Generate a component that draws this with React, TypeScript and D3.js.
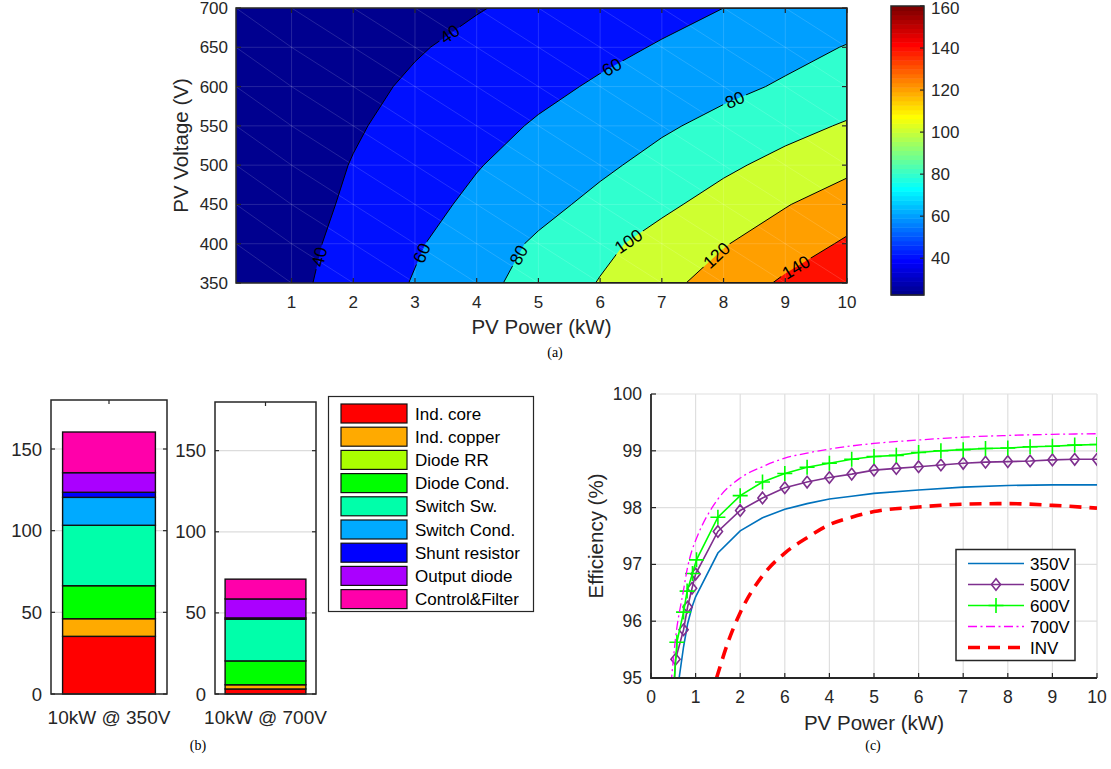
import React, { useEffect, useRef } from 'react'
import * as d3 from 'd3'

// (a) converter loss map: power columns (kW), voltage rows (V), loss in W
const gridPower = [0.1, 1, 2, 3, 4, 5, 6, 7, 8, 9, 10]
const gridVoltage = [350, 400, 450, 500, 550, 600, 650, 700]
const lossGrid = [
  [23, 35.5, 48.5, 61.3, 74.3, 87.5, 101, 114.5, 128.5, 143, 158],
  [22.5, 34, 46.1, 57.9, 70.3, 82.8, 95.3, 107.3, 118.8, 130.6, 142.4],
  [22.5, 32.3, 43.1, 53.6, 64, 74.3, 84.9, 96.1, 107.4, 118.9, 130.3],
  [22.5, 31.2, 40.8, 49.9, 59, 67.8, 76.5, 86.1, 96.3, 106, 115],
  [22.5, 29.9, 38.1, 46.1, 53.9, 61.8, 69.6, 77.4, 85.4, 93.7, 101.9],
  [22.5, 28.7, 35.6, 42.4, 49, 55.6, 62.2, 68.8, 75.5, 82.1, 88.8],
  [22.5, 27.5, 33, 38.6, 44.2, 49.9, 55.6, 61.4, 67.9, 74.4, 80.8],
  [22.5, 26.3, 30.6, 34.8, 39.1, 44.1, 49.4, 54.7, 60, 65.5, 71],
]
const contourLevels = [40, 60, 80, 100, 120, 140]
const colorLimits = [22.5, 160]
const colorbarTicks = [40, 60, 80, 100, 120, 140, 160]
const mapXTicks = [1, 2, 3, 4, 5, 6, 7, 8, 9, 10]
const mapYTicks = [350, 400, 450, 500, 550, 600, 650, 700]
const contourLabels = [
  { level: 40, p: 3.57, v: 666 },
  { level: 40, p: 1.46, v: 383 },
  { level: 60, p: 6.18, v: 626 },
  { level: 60, p: 3.2, v: 385 },
  { level: 80, p: 8.17, v: 585 },
  { level: 80, p: 4.79, v: 381 },
  { level: 100, p: 6.54, v: 394 },
  { level: 120, p: 7.96, v: 379 },
  { level: 140, p: 9.19, v: 368 },
]

// (b) loss breakdown (W)
const lossCategories = ['Ind. core', 'Ind. copper', 'Diode RR', 'Diode Cond.', 'Switch Sw.', 'Switch Cond.', 'Shunt resistor', 'Output diode', 'Control&Filter']
const barLabels = ['10kW @ 350V', '10kW @ 700V']
const loss350 = [35.3, 10.8, 0, 20.2, 37, 17.1, 3.1, 12, 24.9]
const loss700 = [3.1, 2.6, 0, 14.7, 25.7, 0, 0.8, 11.7, 12.2]
const barTicks = [0, 50, 100, 150]

// (c) efficiency curves (%)
const p350 = [0.55, 0.73, 0.82, 0.92, 1, 1.5, 2, 2.5, 3, 3.5, 4, 4.5, 5, 6, 7, 8, 9, 10]
const eff350 = [94.55, 95.55, 95.95, 96.25, 96.43, 97.2, 97.59, 97.82, 97.97, 98.07, 98.15, 98.2, 98.25, 98.31, 98.36, 98.39, 98.4, 98.4]
const p500 = [0.5, 0.55, 0.73, 0.82, 0.92, 1, 1.5, 2, 2.5, 3, 3.5, 4, 4.5, 5, 5.5, 6, 6.5, 7, 7.5, 8, 8.5, 9, 9.5, 10]
const eff500 = [94.6, 95.33, 95.85, 96.25, 96.58, 96.83, 97.58, 97.95, 98.17, 98.35, 98.45, 98.53, 98.59, 98.66, 98.69, 98.72, 98.75, 98.78, 98.8, 98.81, 98.82, 98.84, 98.85, 98.85]
const p600 = [0.5, 0.58, 0.73, 0.81, 0.93, 1.02, 1.5, 2, 2.5, 3, 3.5, 4, 4.5, 5, 5.5, 6, 6.5, 7, 7.5, 8, 8.5, 9, 9.5, 10]
const eff600 = [94.7, 95.63, 96.16, 96.53, 96.84, 97.08, 97.83, 98.21, 98.45, 98.6, 98.71, 98.78, 98.85, 98.9, 98.92, 98.97, 99.0, 99.02, 99.04, 99.05, 99.07, 99.08, 99.1, 99.11]
const p700 = [0.45, 0.55, 0.73, 0.82, 0.92, 1, 1.5, 2, 2.5, 3, 3.5, 4, 5, 6, 7, 8, 9, 10]
const eff700 = [94.9, 95.7, 96.55, 96.95, 97.25, 97.42, 98.15, 98.52, 98.72, 98.87, 98.96, 99.03, 99.13, 99.19, 99.24, 99.27, 99.29, 99.3]
const pInv = [1.47, 1.75, 2, 2.5, 3, 3.5, 4, 4.5, 5, 6, 7, 8, 9, 10]
const effInv = [95.0, 95.68, 96.15, 96.8, 97.2, 97.47, 97.7, 97.83, 97.93, 98.01, 98.06, 98.07, 98.04, 97.99]
const effXTicks = [0, 1, 2, 3, 4, 5, 6, 7, 8, 9, 10]
const effXTickLabels = ['0', '1', '2', '6', '4', '5', '6', '7', '8', '9', '10']
const effYTicks = [95, 96, 97, 98, 99, 100]

const FONT = "'Liberation Sans', Arial, Helvetica, sans-serif"
const SERIF = "'Liberation Serif', 'Times New Roman', serif"
const INK = '#262626'

const clamp = (v: number, a: number, b: number) => Math.max(a, Math.min(b, v))

function jet(t: number) {
  const r = clamp(Math.min(4 * t - 1.5, -4 * t + 4.5), 0, 1)
  const g = clamp(Math.min(4 * t - 0.5, -4 * t + 3.5), 0, 1)
  const b = clamp(Math.min(4 * t + 0.5, -4 * t + 2.5), 0, 1)
  return d3.rgb(r * 255, g * 255, b * 255).formatHex()
}
// row k+1 of a 64 colour jet map, as matlab picks it
const jetRow = (k: number) => jet((k + 1) / 64)
function jetAt(v: number) {
  const t = (v - colorLimits[0]) / (colorLimits[1] - colorLimits[0])
  return jetRow(clamp(Math.floor(t * 64), 0, 63))
}

function drawMap(svg: any, defs: any) {
  const ax = { left: 236, right: 847, top: 8, bottom: 283 }
  const x = d3.scaleLinear().domain([0.1, 10]).range([ax.left, ax.right])
  const y = d3.scaleLinear().domain([350, 700]).range([ax.bottom, ax.top])

  defs.append('clipPath').attr('id', 'clipA').append('rect')
    .attr('x', ax.left).attr('y', ax.top).attr('width', ax.right - ax.left).attr('height', ax.bottom - ax.top)

  const nx = gridPower.length, ny = gridVoltage.length
  const ix = d3.scaleLinear().domain(d3.range(nx)).range(gridPower)
  const iy = d3.scaleLinear().domain(d3.range(ny)).range(gridVoltage)
  const toPx = (pt: number[]) => [x(ix(clamp(pt[0] - 0.5, 0, nx - 1))), y(iy(clamp(pt[1] - 0.5, 0, ny - 1)))]
  const contours = d3.contours().size([nx, ny]).thresholds(contourLevels)(lossGrid.flat())
  const shapes = contours.map((c: any) => ({
    value: c.value,
    rings: c.coordinates.flatMap((poly: any) => poly.map((ring: any) => ring.map(toPx))),
  }))
  const ringPath = (rings: any[]) => rings.map(r => 'M' + r.map((p: number[]) => p[0].toFixed(2) + ',' + p[1].toFixed(2)).join('L') + 'Z').join('')

  const plot = svg.append('g').attr('clip-path', 'url(#clipA)')
  plot.append('rect').attr('x', ax.left).attr('y', ax.top).attr('width', ax.right - ax.left).attr('height', ax.bottom - ax.top)
    .attr('fill', jetAt(d3.min(lossGrid.flat()) as number))
  plot.selectAll('path.band').data(shapes).join('path').attr('class', 'band')
    .attr('d', (d: any) => ringPath(d.rings)).attr('fill', (d: any) => jetAt(d.value)).attr('fill-rule', 'evenodd')

  // faint mesh lines of the data grid
  const mesh = plot.append('g').attr('stroke', '#fff').attr('stroke-opacity', 0.14).attr('stroke-width', 1)
  gridPower.forEach(p => mesh.append('line').attr('x1', x(p)).attr('x2', x(p)).attr('y1', ax.top).attr('y2', ax.bottom))
  gridVoltage.forEach(v => mesh.append('line').attr('x1', ax.left).attr('x2', ax.right).attr('y1', y(v)).attr('y2', y(v)))
  for (let i = 0; i < nx - 1; i++) {
    for (let j = 0; j < ny - 1; j++) {
      mesh.append('line').attr('x1', x(gridPower[i])).attr('y1', y(gridVoltage[j + 1]))
        .attr('x2', x(gridPower[i + 1])).attr('y2', y(gridVoltage[j]))
    }
  }

  // find label spots on the contour lines
  const onEdge = (a: number[], b: number[]) =>
    (Math.abs(a[0] - b[0]) < 0.01 && (Math.abs(a[0] - ax.left) < 0.5 || Math.abs(a[0] - ax.right) < 0.5)) ||
    (Math.abs(a[1] - b[1]) < 0.01 && (Math.abs(a[1] - ax.top) < 0.5 || Math.abs(a[1] - ax.bottom) < 0.5))
  const placed = contourLabels.map(lab => {
    const tx = x(lab.p), ty = y(lab.v)
    let best = { d: Infinity, px: tx, py: ty, ang: 0 }
    const shape = shapes.find((s: any) => s.value === lab.level)
    if (shape) shape.rings.forEach((ring: number[][]) => {
      for (let k = 0; k < ring.length - 1; k++) {
        const a = ring[k], b = ring[k + 1]
        if (onEdge(a, b)) continue
        const dx = b[0] - a[0], dy = b[1] - a[1], len2 = dx * dx + dy * dy
        if (len2 < 1e-6) continue
        const t = clamp(((tx - a[0]) * dx + (ty - a[1]) * dy) / len2, 0, 1)
        const px = a[0] + t * dx, py = a[1] + t * dy
        const d = Math.hypot(px - tx, py - ty)
        if (d < best.d) {
          let ang = Math.atan2(dy, dx) * 180 / Math.PI
          if (ang > 90) ang -= 180
          if (ang < -90) ang += 180
          best = { d, px, py, ang }
        }
      }
    })
    return { text: String(lab.level), ...best }
  })

  const mask = defs.append('mask').attr('id', 'gapA').attr('maskUnits', 'userSpaceOnUse')
    .attr('x', 0).attr('y', 0).attr('width', 1111).attr('height', 769)
  mask.append('rect').attr('x', 0).attr('y', 0).attr('width', 1111).attr('height', 769).attr('fill', '#fff')
  placed.forEach(l => {
    const w = l.text.length * 10 + 5
    mask.append('rect').attr('x', -w / 2).attr('y', -7).attr('width', w).attr('height', 14).attr('fill', '#000')
      .attr('transform', `translate(${l.px},${l.py}) rotate(${l.ang})`)
  })

  plot.append('g').attr('mask', 'url(#gapA)').selectAll('path').data(shapes).join('path')
    .attr('d', (d: any) => ringPath(d.rings)).attr('fill', 'none').attr('stroke', '#000').attr('stroke-width', 1)

  svg.append('g').selectAll('text').data(placed).join('text')
    .attr('transform', (l: any) => `translate(${l.px},${l.py}) rotate(${l.ang})`)
    .attr('text-anchor', 'middle').attr('dy', '0.36em')
    .attr('font-family', FONT).attr('font-size', 17.5).attr('fill', '#000')
    .text((l: any) => l.text)

  // axes box and ticks
  const axg = svg.append('g').attr('stroke', INK).attr('stroke-width', 1.2)
  mapXTicks.forEach(t => {
    axg.append('line').attr('x1', x(t)).attr('x2', x(t)).attr('y1', ax.bottom).attr('y2', ax.bottom - 5)
    axg.append('line').attr('x1', x(t)).attr('x2', x(t)).attr('y1', ax.top).attr('y2', ax.top + 5)
  })
  mapYTicks.forEach(t => {
    axg.append('line').attr('x1', ax.left).attr('x2', ax.left + 5).attr('y1', y(t)).attr('y2', y(t))
    axg.append('line').attr('x1', ax.right).attr('x2', ax.right - 5).attr('y1', y(t)).attr('y2', y(t))
  })
  svg.append('rect').attr('x', ax.left).attr('y', ax.top).attr('width', ax.right - ax.left).attr('height', ax.bottom - ax.top)
    .attr('fill', 'none').attr('stroke', INK).attr('stroke-width', 1.5)

  const txt = svg.append('g').attr('font-family', FONT).attr('fill', INK)
  mapXTicks.forEach(t => txt.append('text').attr('x', x(t)).attr('y', 308).attr('text-anchor', 'middle').attr('font-size', 17).text(t))
  mapYTicks.forEach(t => txt.append('text').attr('x', 228).attr('y', Math.max(y(t) + 6, 14)).attr('text-anchor', 'end').attr('font-size', 17).text(t))
  txt.append('text').attr('x', (ax.left + ax.right) / 2).attr('y', 334).attr('text-anchor', 'middle').attr('font-size', 20.5).text('PV Power (kW)')
  txt.append('text').attr('transform', `translate(188,${(ax.top + ax.bottom) / 2}) rotate(-90)`).attr('text-anchor', 'middle').attr('font-size', 20.5).text('PV Voltage (V)')

  // colorbar
  const cb = { left: 891, right: 924, top: 6, bottom: 295 }
  const cy = d3.scaleLinear().domain(colorLimits).range([cb.bottom, cb.top])
  const steps = d3.range(64)
  const stepV = (colorLimits[1] - colorLimits[0]) / 64
  svg.append('g').selectAll('rect').data(steps).join('rect')
    .attr('x', cb.left).attr('width', cb.right - cb.left)
    .attr('y', (k: number) => cy(colorLimits[0] + (k + 1) * stepV))
    .attr('height', (k: number) => cy(colorLimits[0] + k * stepV) - cy(colorLimits[0] + (k + 1) * stepV) + 0.5)
    .attr('fill', (k: number) => jetRow(k))
  const cbg = svg.append('g')
  colorbarTicks.forEach(t => {
    cbg.append('line').attr('x1', cb.right).attr('x2', cb.right - 4).attr('y1', cy(t)).attr('y2', cy(t)).attr('stroke', INK).attr('stroke-width', 1.2)
    cbg.append('text').attr('x', 931).attr('y', Math.max(cy(t) + 6, 14)).attr('font-family', FONT).attr('font-size', 17).attr('fill', INK).text(t)
  })
  cbg.append('rect').attr('x', cb.left).attr('y', cb.top).attr('width', cb.right - cb.left).attr('height', cb.bottom - cb.top)
    .attr('fill', 'none').attr('stroke', INK).attr('stroke-width', 1.5)

  svg.append('text').attr('x', 555).attr('y', 357).attr('text-anchor', 'middle').attr('font-family', SERIF).attr('font-size', 14).attr('fill', '#000').text('(a)')
}

function drawBars(svg: any) {
  const rows = [loss350, loss700].map(vals => Object.fromEntries(lossCategories.map((k, i) => [k, vals[i]])))
  const series = d3.stack().keys(lossCategories)(rows as any)
  const colors = lossCategories.map((_, i) => d3.hsl((i * 360) / 9, 1, 0.5).formatHex())
  const axesList = [
    { left: 51, right: 167, top: 400, bottom: 694, labelRight: 42 },
    { left: 215, right: 316, top: 402, bottom: 694, labelRight: 206 },
  ]
  axesList.forEach((ax, bi) => {
    const x = d3.scaleBand().domain([barLabels[bi]]).range([ax.left, ax.right]).paddingInner(0).paddingOuter(0.125)
    const y = d3.scaleLinear().domain([0, 180]).range([ax.bottom, ax.top])
    const g = svg.append('g')
    barTicks.filter(t => t > 0).forEach(t => g.append('line').attr('x1', ax.left).attr('x2', ax.right).attr('y1', y(t)).attr('y2', y(t))
      .attr('stroke', '#dcdcdc').attr('stroke-width', 1.2))
    series.forEach((s: any, k: number) => {
      const seg = s[bi]
      g.append('rect').attr('x', x(barLabels[bi])).attr('width', x.bandwidth())
        .attr('y', y(seg[1])).attr('height', y(seg[0]) - y(seg[1]))
        .attr('fill', colors[k]).attr('stroke', '#111').attr('stroke-width', 1.4)
    })
    const cx = (x(barLabels[bi]) as number) + x.bandwidth() / 2
    barTicks.forEach(t => {
      g.append('line').attr('x1', ax.left).attr('x2', ax.left + 4).attr('y1', y(t)).attr('y2', y(t)).attr('stroke', INK).attr('stroke-width', 1.2)
      g.append('line').attr('x1', ax.right).attr('x2', ax.right - 4).attr('y1', y(t)).attr('y2', y(t)).attr('stroke', INK).attr('stroke-width', 1.2)
      g.append('text').attr('x', ax.labelRight).attr('y', y(t) + 6.5).attr('text-anchor', 'end')
        .attr('font-family', FONT).attr('font-size', 18.5).attr('fill', INK).text(t)
    })
    g.append('line').attr('x1', cx).attr('x2', cx).attr('y1', ax.top).attr('y2', ax.top + 4).attr('stroke', INK).attr('stroke-width', 1.2)
    g.append('rect').attr('x', ax.left).attr('y', ax.top).attr('width', ax.right - ax.left).attr('height', ax.bottom - ax.top)
      .attr('fill', 'none').attr('stroke', INK).attr('stroke-width', 1.5)
    g.append('text').attr('x', cx).attr('y', 724).attr('text-anchor', 'middle')
      .attr('font-family', FONT).attr('font-size', 19).attr('fill', INK).text(barLabels[bi])
  })

  // legend
  const lg = svg.append('g')
  lg.append('rect').attr('x', 328.5).attr('y', 396.5).attr('width', 205).attr('height', 215)
    .attr('fill', '#fff').attr('stroke', INK).attr('stroke-width', 1.2)
  lossCategories.forEach((name, i) => {
    const top = 404 + i * 23.2
    lg.append('rect').attr('x', 341).attr('y', top).attr('width', 66).attr('height', 19)
      .attr('fill', colors[i]).attr('stroke', '#111').attr('stroke-width', 1.2)
    lg.append('text').attr('x', 415).attr('y', top + 15.5).attr('font-family', FONT).attr('font-size', 17).attr('fill', '#000').text(name)
  })

  svg.append('text').attr('x', 198).attr('y', 750).attr('text-anchor', 'middle').attr('font-family', SERIF).attr('font-size', 14).attr('fill', '#000').text('(b)')
}

function drawEfficiency(svg: any, defs: any) {
  const ax = { left: 651, right: 1097, top: 394, bottom: 678 }
  const x = d3.scaleLinear().domain([0, 10]).range([ax.left, ax.right])
  const y = d3.scaleLinear().domain([95, 100]).range([ax.bottom, ax.top])
  defs.append('clipPath').attr('id', 'clipC').append('rect')
    .attr('x', ax.left).attr('y', ax.top).attr('width', ax.right - ax.left).attr('height', ax.bottom - ax.top)

  const grid = svg.append('g').attr('stroke', '#dfdfdf').attr('stroke-width', 1.2)
  effXTicks.forEach(t => grid.append('line').attr('x1', x(t)).attr('x2', x(t)).attr('y1', ax.top).attr('y2', ax.bottom))
  effYTicks.forEach(t => grid.append('line').attr('x1', ax.left).attr('x2', ax.right).attr('y1', y(t)).attr('y2', y(t)))

  const diamond = 'M0,-5.8L4.6,0L0,5.8L-4.6,0Z'
  const plus = 'M-7.5,0H7.5M0,-7.5V7.5'
  const curves = [
    { name: '350V', xs: p350, ys: eff350, color: '#0072bd', width: 1.6, dash: null, marker: null, curve: d3.curveLinear },
    { name: '500V', xs: p500, ys: eff500, color: '#7e2f8e', width: 1.6, dash: null, marker: diamond, curve: d3.curveLinear },
    { name: '600V', xs: p600, ys: eff600, color: '#00ff00', width: 1.6, dash: null, marker: plus, curve: d3.curveLinear },
    { name: '700V', xs: p700, ys: eff700, color: '#ff00ff', width: 1.3, dash: '9 3.5 2 3.5', marker: null, curve: d3.curveMonotoneX },
    { name: 'INV', xs: pInv, ys: effInv, color: '#ff0000', width: 3.6, dash: '12 8', marker: null, curve: d3.curveMonotoneX },
  ]
  const plot = svg.append('g').attr('clip-path', 'url(#clipC)')
  curves.forEach(c => {
    const pts = c.xs.map((v, i) => [v, c.ys[i]])
    const line = d3.line().x((d: any) => x(d[0])).y((d: any) => y(d[1])).curve(c.curve)
    plot.append('path').attr('d', line(pts as any)).attr('fill', 'none').attr('stroke', c.color)
      .attr('stroke-width', c.width).attr('stroke-dasharray', c.dash)
    if (c.marker) {
      plot.append('g').selectAll('path').data(pts).join('path')
        .attr('transform', (d: any) => `translate(${x(d[0])},${y(d[1])})`)
        .attr('d', c.marker).attr('fill', 'none').attr('stroke', c.color).attr('stroke-width', 1.6)
    }
  })

  const axg = svg.append('g').attr('stroke', INK).attr('stroke-width', 1.2)
  effXTicks.forEach(t => axg.append('line').attr('x1', x(t)).attr('x2', x(t)).attr('y1', ax.bottom).attr('y2', ax.bottom - 5))
  effYTicks.forEach(t => axg.append('line').attr('x1', ax.left).attr('x2', ax.left + 5).attr('y1', y(t)).attr('y2', y(t)))
  svg.append('path').attr('d', `M${ax.left},${ax.top}V${ax.bottom}H${ax.right}`).attr('fill', 'none').attr('stroke', INK).attr('stroke-width', 1.8)

  const txt = svg.append('g').attr('font-family', FONT).attr('fill', INK)
  effXTicks.forEach((t, i) => txt.append('text').attr('x', x(t)).attr('y', 703).attr('text-anchor', 'middle').attr('font-size', 17.5).text(effXTickLabels[i]))
  effYTicks.forEach(t => txt.append('text').attr('x', 642).attr('y', y(t) + 6).attr('text-anchor', 'end').attr('font-size', 17.5).text(t))
  txt.append('text').attr('x', (ax.left + ax.right) / 2).attr('y', 730).attr('text-anchor', 'middle').attr('font-size', 20.5).text('PV Power (kW)')
  txt.append('text').attr('transform', `translate(603,${(ax.top + ax.bottom) / 2}) rotate(-90)`).attr('text-anchor', 'middle').attr('font-size', 20.5).text('Efficiency (%)')

  // legend
  const lg = svg.append('g')
  lg.append('rect').attr('x', 956).attr('y', 549.5).attr('width', 119).attr('height', 111)
    .attr('fill', '#fff').attr('stroke', INK).attr('stroke-width', 1.5)
  curves.forEach((c, i) => {
    const cy = 563.5 + i * 21
    lg.append('line').attr('x1', 968).attr('x2', 1024).attr('y1', cy).attr('y2', cy)
      .attr('stroke', c.color).attr('stroke-width', c.width).attr('stroke-dasharray', c.dash)
    if (c.marker) lg.append('path').attr('transform', `translate(996,${cy})`).attr('d', c.marker)
      .attr('fill', 'none').attr('stroke', c.color).attr('stroke-width', 1.6)
    lg.append('text').attr('x', 1030).attr('y', cy + 6).attr('font-family', FONT).attr('font-size', 17).attr('fill', '#000').text(c.name)
  })

  svg.append('text').attr('x', 873).attr('y', 750).attr('text-anchor', 'middle').attr('font-family', SERIF).attr('font-size', 14).attr('fill', '#000').text('(c)')
}

export default function App() {
  const ref = useRef<SVGSVGElement>(null)
  useEffect(() => {
    const svg = d3.select(ref.current)
    svg.selectAll('*').remove()
    const defs = svg.append('defs')
    drawMap(svg, defs)
    drawBars(svg)
    drawEfficiency(svg, defs)
  }, [])
  return (
    <svg ref={ref} width={1111} height={769} style={{ position: 'absolute', left: 0, top: 0, background: '#fff' }} />
  )
}
